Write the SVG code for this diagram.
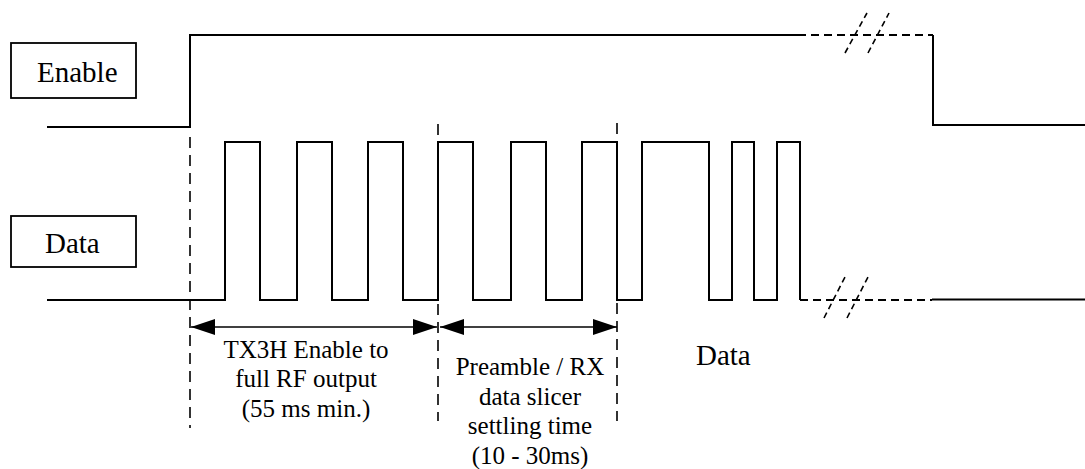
<svg xmlns="http://www.w3.org/2000/svg" width="1085" height="469" viewBox="0 0 1085 469">
<style>
.sig{fill:none;stroke:#000;stroke-width:2;stroke-linejoin:miter}
.dsh{fill:none;stroke:#000;stroke-width:2;stroke-dasharray:8 5}
.brk{fill:none;stroke:#000;stroke-width:1.6;stroke-dasharray:6 4}
.vd{fill:none;stroke:#000;stroke-width:1.6;stroke-dasharray:11 7}
.box{fill:#fff;stroke:#000;stroke-width:1.8}
.arr{fill:none;stroke:#000;stroke-width:1.6}
text{font-family:"Liberation Serif","Tinos","Times New Roman","Times","Nimbus Roman","Nimbus Roman No9 L","FreeSerif","Noto Serif","DejaVu Serif",serif;fill:#000}
.lbl{font-size:29px}
.note{font-size:25px;text-anchor:middle}
</style>
<defs>
<marker id="ah" viewBox="0 0 24 16" refX="24" refY="8" markerWidth="24" markerHeight="16" markerUnits="userSpaceOnUse" orient="auto-start-reverse">
<path d="M0,0 L24,8 L0,16 Z" fill="#000"/>
</marker>
</defs>
<rect width="1085" height="469" fill="#fff"/>
<g id="enable-label">
<rect class="box" x="11" y="43" width="125" height="55"/>
<text class="lbl" x="37" y="82">Enable</text>
</g>
<g id="data-label">
<rect class="box" x="11" y="216" width="125" height="51"/>
<text class="lbl" x="45" y="253">Data</text>
</g>
<g id="enable-signal">
<path class="sig" d="M47,127 H190 V35 H798"/>
<path class="dsh" d="M798,35 H933"/>
<path class="sig" d="M933,35 V125 H1085"/>
<path class="brk" d="M845,53 L867,13 M868,53 L889,13"/>
</g>
<g id="data-signal">
<path class="sig" d="M47,300 H225 V142 H260 V300 H297 V142 H332 V300 H368 V142 H403 V300 H438 V142 H473 V300 H511 V142 H546 V300 H582 V142 H617 V300 H642 V142 H709 V300 H732 V142 H754 V300 H777 V142 H800 V300"/>
<path class="dsh" d="M800,300 H932"/>
<path class="sig" d="M932,299.5 H1085"/>
<path class="brk" d="M824,318 L845,277 M847,318 L868,277"/>
</g>
<g id="connectors">
<path class="vd" d="M190,137 V428"/>
<path class="vd" d="M438,124 V421"/>
<path class="vd" d="M617,123 V421"/>
<line class="arr" x1="191" y1="327" x2="437" y2="327" marker-start="url(#ah)" marker-end="url(#ah)"/>
<line class="arr" x1="440" y1="327" x2="617" y2="327" marker-start="url(#ah)" marker-end="url(#ah)"/>
</g>
<g id="tx-note">
<text class="note" x="306" y="358">TX3H Enable to</text>
<text class="note" x="306" y="387">full RF output</text>
<text class="note" x="306" y="417">(55 ms min.)</text>
</g>
<g id="preamble-note">
<text class="note" x="530" y="375">Preamble / RX</text>
<text class="note" x="530" y="405">data slicer</text>
<text class="note" x="530" y="434">settling time</text>
<text class="note" x="530" y="464">(10 - 30ms)</text>
</g>
<g id="data-note">
<text class="lbl" x="696" y="365">Data</text>
</g>
</svg>
